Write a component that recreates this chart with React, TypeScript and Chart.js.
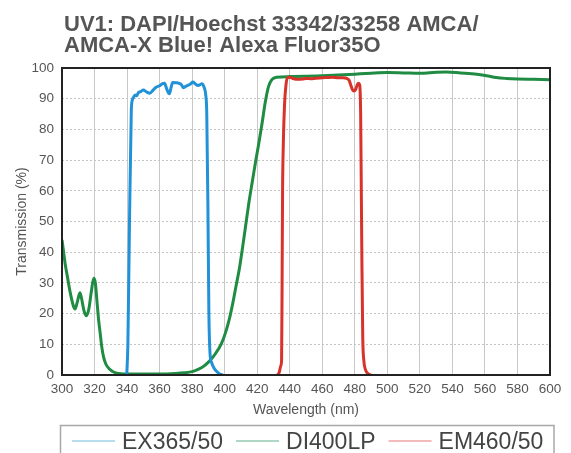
import React, { useEffect, useRef } from "react";
import { Chart, registerables } from "chart.js";

Chart.register(...registerables);

const FONT = '"Liberation Sans", Arial, Helvetica, sans-serif';

const TITLE_LINES = ["UV1: DAPI/Hoechst 33342/33258 AMCA/", "AMCA-X Blue! Alexa Fluor35O"];
const X_TITLE = "Wavelength (nm)";
const Y_TITLE = "Transmission (%)";
const SERIES_LABELS = ["EX365/50", "DI400LP", "EM460/50"];

// EX365/50 (excitation)
const exWavelength = [339.8, 340.5, 341.5, 342.6, 343.2, 344, 345, 346, 347, 348, 350, 352, 354, 356, 358, 360, 361.5, 363, 364.5, 366, 367, 368, 370, 372, 373.5, 374.5, 376, 377.6, 379, 380.5, 382, 383.6, 385, 386, 387.5, 388.3, 389, 389.7, 390.3, 391, 392, 393.5, 395, 397, 399];
const exTransmission = [0, 10, 50, 86, 89.5, 90.5, 91.2, 91, 92, 92.2, 92.8, 92.2, 91.8, 92.8, 93.8, 94.2, 94.8, 95, 93, 91.6, 93.5, 95.3, 95.2, 95, 94.5, 93.6, 94, 94.4, 94.8, 95.4, 94.8, 94.3, 94.6, 94.9, 93.5, 91.5, 85, 55, 20, 7, 4, 2.2, 1.2, 0.3, 0];

// DI400LP (dichroic)
const diWavelength = [300, 301, 302, 303, 305, 307, 308, 309.5, 311, 312, 313.5, 315, 316.5, 318, 319.5, 320.5, 321.5, 322.5, 323.5, 324.5, 325.5, 327, 329.5, 332, 335, 340, 350, 360, 370, 375, 380, 384, 387, 390, 393, 395, 397, 399, 401, 403, 405, 407, 409, 411, 413, 415, 417, 419, 421, 423, 425, 427, 429, 432, 440, 450, 460, 470, 480, 490, 500, 510, 520, 530, 536, 545, 555, 561, 567, 573, 580, 590, 600];
const diTransmission = [44, 40, 36, 33, 27, 22.5, 21.5, 24, 26.8, 25, 21, 19.3, 21.5, 27, 31.5, 30, 24, 18, 13.5, 9, 6, 3.5, 1.8, 0.9, 0.5, 0.3, 0.3, 0.3, 0.5, 0.7, 1.1, 1.9, 2.8, 4.2, 6, 7.5, 9.2, 11.5, 14.6, 18.5, 23.4, 29, 34.5, 41.5, 49, 56.5, 63, 69.5, 75.5, 82, 89, 94, 96.2, 97, 97.2, 97.3, 97.5, 97.7, 98, 98.3, 98.5, 98.4, 98.3, 98.6, 98.7, 98.4, 98, 97.5, 96.9, 96.6, 96.4, 96.3, 96.2];

// EM460/50 (emission)
const emWavelength = [432.5, 433.5, 434.5, 435, 435.3, 435.6, 436, 436.8, 437.7, 438.5, 440, 442, 445, 448, 450, 453, 456, 460, 463, 466, 470, 473, 475, 476.5, 477.5, 478.5, 479.5, 480.5, 481.5, 482.3, 483, 483.6, 484, 484.4, 484.9, 485.5, 486.5, 488, 490];
const emTransmission = [0, 0.8, 3, 5, 30, 60, 74, 88, 94.5, 96.7, 97, 96.6, 96.3, 96.4, 96.6, 96.5, 96.7, 96.8, 96.9, 97, 96.8, 96.8, 96.6, 96, 94.5, 93, 92.5, 93, 94.5, 95, 94.5, 85, 60, 35, 12, 5, 1.8, 0.5, 0];

const LINE_COLORS = ["#2192d8", "#1f8b43", "#d8332b"];
const LEGEND_COLORS = ["#9fd2ea", "#96c9b2", "#f0a4a4"];

const toPoints = (xs: number[], ys: number[]) => xs.map((x, i) => ({ x, y: ys[i] }));

const decorPlugin = {
  id: "decor",
  afterDraw(chart: any) {
    const { ctx, chartArea: a } = chart;
    ctx.save();
    // frame
    ctx.strokeStyle = "#222";
    ctx.lineWidth = 2;
    ctx.strokeRect(a.left, a.top, a.right - a.left, a.bottom - a.top);

    // title
    ctx.fillStyle = "#555";
    ctx.font = `bold 22px ${FONT}`;
    ctx.textAlign = "left";
    ctx.textBaseline = "alphabetic";
    TITLE_LINES.forEach((t, i) => ctx.fillText(t, 64, 31 + i * 21));

    // legend box
    ctx.strokeStyle = "#a8a8a8";
    ctx.lineWidth = 1.5;
    ctx.strokeRect(60.5, 425.5, 493.5, 40);
    ctx.font = `23px ${FONT}`;
    let x = 72;
    chart.data.datasets.forEach((ds: any, i: number) => {
      ctx.strokeStyle = LEGEND_COLORS[i];
      ctx.lineWidth = 1.5;
      ctx.beginPath();
      ctx.moveTo(x, 441);
      ctx.lineTo(x + 43, 441);
      ctx.stroke();
      ctx.fillStyle = "#444";
      ctx.fillText(ds.label, x + 50, 449);
      x += 50 + ctx.measureText(ds.label).width + 13;
    });
    ctx.restore();
  },
};

export default function App() {
  const ref = useRef<HTMLCanvasElement>(null);
  useEffect(() => {
    if (!ref.current) return;
    Chart.defaults.font.family = FONT;
    const chart = new Chart(ref.current, {
      type: "line",
      data: {
        datasets: [
          { label: SERIES_LABELS[0], data: toPoints(exWavelength, exTransmission), borderColor: LINE_COLORS[0], order: 1 },
          { label: SERIES_LABELS[1], data: toPoints(diWavelength, diTransmission), borderColor: LINE_COLORS[1], order: 2 },
          { label: SERIES_LABELS[2], data: toPoints(emWavelength, emTransmission), borderColor: LINE_COLORS[2], order: 0 },
        ].map((d) => ({ ...d, borderWidth: 3, pointRadius: 0, fill: false, cubicInterpolationMode: "monotone" as const })),
      },
      options: {
        responsive: false,
        animation: false,
        layout: { padding: { top: 68, right: 21, bottom: 34.6, left: 0 } },
        plugins: { legend: { display: false }, tooltip: { enabled: false }, title: { display: false } },
        scales: {
          x: {
            type: "linear",
            min: 300,
            max: 600,
            ticks: { stepSize: 20, color: "#555", font: { size: 13.5 }, padding: 6, maxRotation: 0, autoSkip: false },
            grid: { color: "#c8c8c8", lineWidth: 1, drawTicks: false },
            border: { display: false },
            title: { display: true, text: X_TITLE, color: "#555", font: { size: 14 }, padding: 0 },
            afterFit(s: any) {
              s.height = 43.4;
            },
          },
          y: {
            min: 0,
            max: 100,
            ticks: { stepSize: 10, color: "#555", font: { size: 13.5 }, padding: 8 },
            grid: { color: "#c4c4c4", lineWidth: 1, drawTicks: false, borderDash: [2, 2] } as any,
            border: { display: false, dash: [2, 2] },
            title: { display: true, text: Y_TITLE, color: "#555", font: { size: 14 }, padding: { top: 13.6, bottom: 0 } },
            afterFit(s: any) {
              s.width = 62;
            },
          },
        },
      },
      plugins: [decorPlugin],
    } as any);
    return () => chart.destroy();
  }, []);
  return (
    <div style={{ position: "absolute", left: 0, top: 0, width: 571, height: 453, background: "#fff" }}>
      <canvas ref={ref} width={571} height={453} style={{ display: "block" }} />
    </div>
  );
}
